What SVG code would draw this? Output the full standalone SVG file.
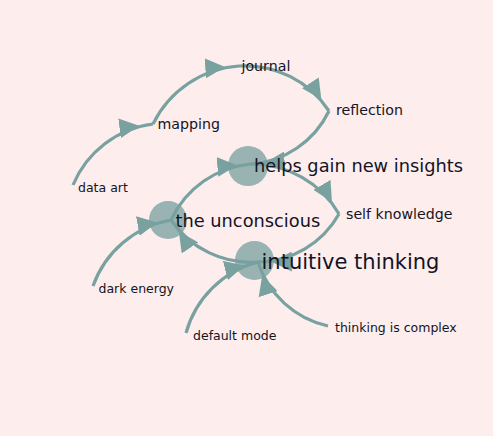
<svg xmlns="http://www.w3.org/2000/svg" width="493" height="436" viewBox="0 0 493 436">
<style>
.link{fill:none;stroke:#78a19f;stroke-width:3.2;marker-end:url(#arr)}
.node circle{fill:#78a19f;fill-opacity:0.76}
.node text{font-family:"DejaVu Sans","Liberation Sans",sans-serif;fill:#141424}
.s1{font-size:12.5px}.s2{font-size:14.2px}.s3{font-size:17.8px}.s4{font-size:21px}
</style>
<defs>
<marker id="arr" viewBox="0 -5 10 10" refX="17" refY="0" markerWidth="6.2" markerHeight="6.2" orient="auto">
<path d="M0,-5L10,0L0,5Z" fill="#78a19f"/>
</marker>
</defs>
<rect width="493" height="436" fill="#fdeded"/>
<g id="links">
<path class="link" d="M73,185A100.6,100.6 0 0,1 153,124"/>
<path class="link" d="M153,124A103.7,103.7 0 0,1 239,66"/>
<path class="link" d="M239,66A100.6,100.6 0 0,1 329,111"/>
<path class="link" d="M329,111A94.3,94.3 0 0,1 251,164"/>
<path class="link" d="M171,220A97.7,97.7 0 0,1 251,164"/>
<path class="link" d="M251,164A101.2,101.2 0 0,1 339,214"/>
<path class="link" d="M339,214A94.2,94.2 0 0,1 258,262"/>
<path class="link" d="M258,262A96.6,96.6 0 0,1 171,220"/>
<path class="link" d="M93,286A102.2,102.2 0 0,1 171,220"/>
<path class="link" d="M186,333A101.1,101.1 0 0,1 258,262"/>
<path class="link" d="M328,326A94.8,94.8 0 0,1 258,262"/>
</g>
<g id="n-data-art" class="node"><text class="s1" x="78" y="191.5">data art</text></g>
<g id="n-mapping" class="node"><text class="s2" x="157.5" y="129">mapping</text></g>
<g id="n-journal" class="node"><text class="s2" x="241.5" y="71">journal</text></g>
<g id="n-reflection" class="node"><text class="s2" x="336" y="115">reflection</text></g>
<g id="n-helps" class="node"><circle cx="248" cy="166" r="20"/><text class="s3" x="254" y="172">helps gain new insights</text></g>
<g id="n-unconscious" class="node"><circle cx="168" cy="220" r="19"/><text class="s3" x="175.5" y="227">the unconscious</text></g>
<g id="n-self-knowledge" class="node"><text class="s2" x="346" y="219">self knowledge</text></g>
<g id="n-intuitive" class="node"><circle cx="254.5" cy="260.5" r="19.5"/><text class="s4" x="261.5" y="269">intuitive thinking</text></g>
<g id="n-dark-energy" class="node"><text class="s1" x="98.5" y="293">dark energy</text></g>
<g id="n-default-mode" class="node"><text class="s1" x="193" y="340">default mode</text></g>
<g id="n-thinking-complex" class="node"><text class="s1" x="335" y="332">thinking is complex</text></g>
</svg>
